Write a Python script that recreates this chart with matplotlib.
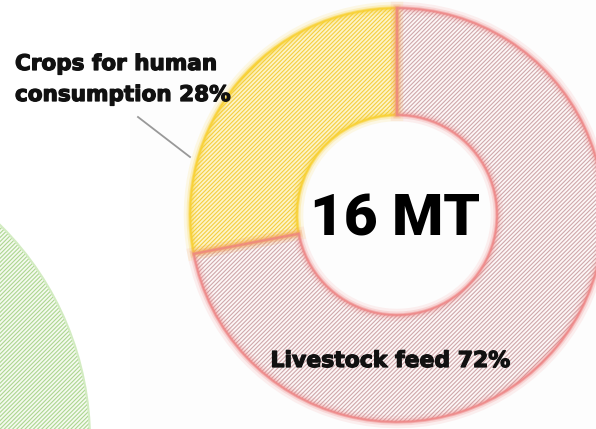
import matplotlib
matplotlib.use("Agg")
import matplotlib.pyplot as plt
import matplotlib.patheffects as pe
from matplotlib.patches import Circle, Wedge

# ---- data ----
categories = ["Crops for human\nconsumption 28%", "Livestock feed 72%"]
shares = [28, 72]
total_label = "16 MT"

# ---- style ----
W, H = 596, 429
plt.rcParams['hatch.linewidth'] = 0.8
fig = plt.figure(figsize=(W / 100, H / 100), dpi=100)
ax = fig.add_axes([0, 0, 1, 1])
ax.set_xlim(0, W)
ax.set_ylim(0, H)
ax.set_aspect('equal')
ax.axis('off')

FONT = ['Roboto', 'DejaVu Sans']
LFONT = ['DejaVu Sans']
thick = [pe.withStroke(linewidth=0.9, foreground='#111111')]

# subtle background panel
ax.add_patch(plt.Rectangle((130, 0), W - 130, H, facecolor='#fdfdfd', edgecolor='none', zorder=0))

# partial green circle (neighbouring chart)
ax.add_patch(Circle((-212, H - 440), 302, facecolor='#f5faef', edgecolor='#acd690',
                    hatch='////////', linewidth=0, zorder=1))
ax.add_patch(Circle((-212, H - 440), 302, facecolor='none', edgecolor='#d3ecc2',
                    linewidth=1.5, zorder=1))

cx, cy = 397, H - 215
r_out, r_in = 207, 100
fills = ['#fdf4c8', '#fdf7f7']
hatch_cols = ['#f4ce40', '#cfa7aa']
edge_cols = ['#f8d030', '#ee8585']

wedges, _ = ax.pie(shares, radius=r_out, center=(cx, cy), startangle=90,
                   counterclock=True, frame=True,
                   wedgeprops=dict(width=r_out - r_in, linewidth=0))
for w, fc, hc, ec in zip(wedges, fills, hatch_cols, edge_cols):
    w.set_facecolor(fc)
    w.set_edgecolor(hc)
    w.set_hatch('////////')
    w.set_linewidth(0)
    w.set_zorder(2)
    # soft glowing edge
    for lw, a in [(9, 0.12), (5, 0.22), (2.5, 0.45), (1.2, 0.8)]:
        ax.add_patch(Wedge(w.center, w.r, w.theta1, w.theta2, width=w.width,
                           facecolor='none', edgecolor=ec, linewidth=lw, alpha=a, zorder=3))

ax.set_xlim(0, W)
ax.set_ylim(0, H)
ax.axis('off')

# center label
ax.text(cx - 2, H - 236, total_label, ha='center', va='baseline', fontsize=42,
        fontweight=900, family=FONT, color='#000000', zorder=5)

# crops label with leader line
line1, line2 = categories[0].split('\n')
ax.text(15, H - 70, line1, ha='left', va='baseline', fontsize=15.5,
        fontweight='bold', family=LFONT, color='#111111', zorder=5, path_effects=thick)
ax.text(15, H - 101, line2, ha='left', va='baseline', fontsize=15.5,
        fontweight='bold', family=LFONT, color='#111111', zorder=5, path_effects=thick)
ax.plot([138, 190], [H - 117, H - 157], color='#999999', linewidth=1.3, zorder=5)

# livestock label
ax.text(391, H - 367, categories[1], ha='center', va='baseline', fontsize=15.8,
        fontweight='bold', family=LFONT, color='#111111', zorder=5, path_effects=thick)

fig.savefig('out.png', dpi=100, facecolor='white')
